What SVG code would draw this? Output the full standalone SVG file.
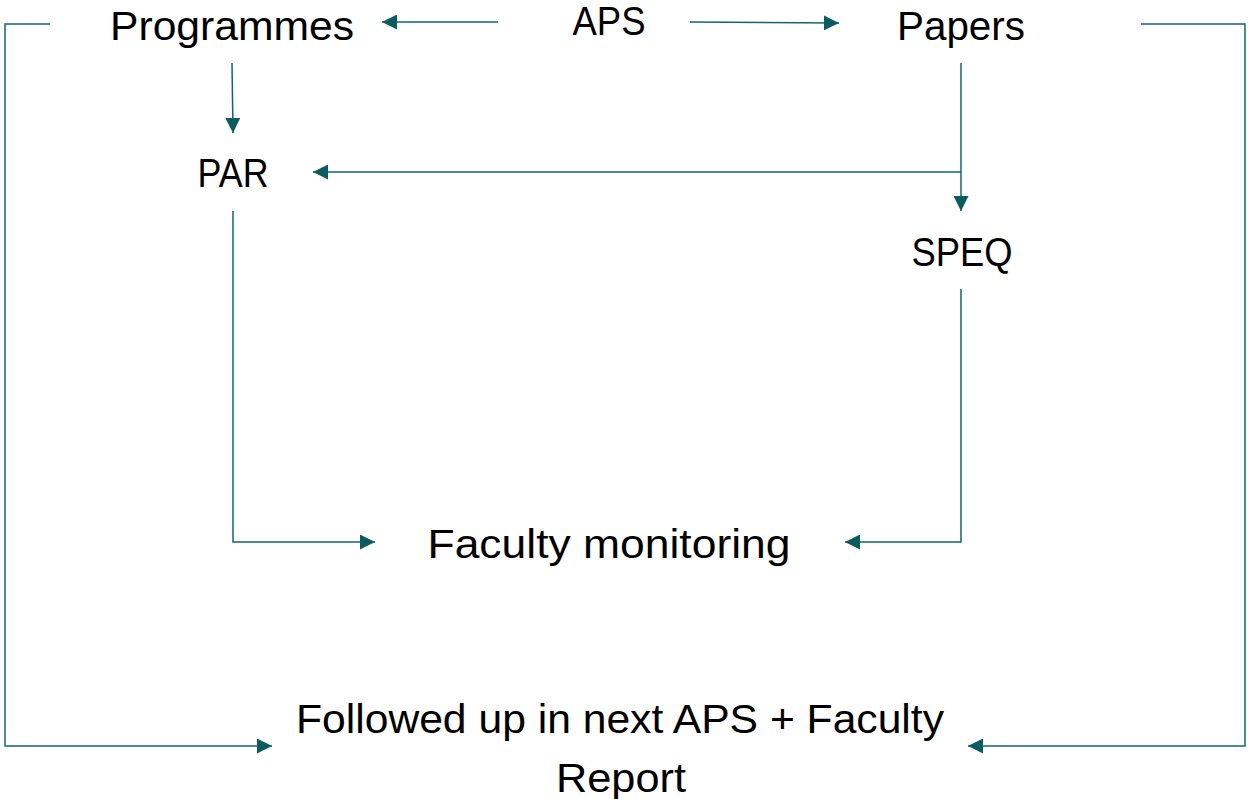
<svg xmlns="http://www.w3.org/2000/svg" width="1248" height="799" viewBox="0 0 1248 799">
<defs>
<style>
.lbl{font-family:"Liberation Sans",Arial,sans-serif;font-size:41px;fill:#000;text-anchor:middle}
.con{fill:none;stroke:#136767;stroke-width:1.5}
</style>
<marker id="ah" markerUnits="userSpaceOnUse" markerWidth="15" markerHeight="15" refX="15" refY="7.5" orient="auto">
<path d="M0,0 L15,7.5 L0,15 z" fill="#0B5C5E"/>
</marker>
</defs>
<rect width="1248" height="799" fill="#fff"/>
<g id="connectors">
<path class="con" d="M498,22 L382,22" marker-end="url(#ah)"/>
<path class="con" d="M690,22 L839,23" marker-end="url(#ah)"/>
<path class="con" d="M232,63 L233,133" marker-end="url(#ah)"/>
<path class="con" d="M961,63 L961,211" marker-end="url(#ah)"/>
<path class="con" d="M961,172 L313,172" marker-end="url(#ah)"/>
<path class="con" d="M233,211 L233,542 L375,542" marker-end="url(#ah)"/>
<path class="con" d="M961,289 L961,542 L845,542" marker-end="url(#ah)"/>
<path class="con" d="M50,24 L5,24 L5,746 L272,746" marker-end="url(#ah)"/>
<path class="con" d="M1141,24 L1245,24 L1245,746 L968,746" marker-end="url(#ah)"/>
</g>
<g id="node-programmes"><text class="lbl" x="232" y="40" textLength="244" lengthAdjust="spacingAndGlyphs">Programmes</text></g>
<g id="node-aps"><text class="lbl" x="609" y="35" textLength="73" lengthAdjust="spacingAndGlyphs">APS</text></g>
<g id="node-papers"><text class="lbl" x="961" y="40" textLength="128" lengthAdjust="spacingAndGlyphs">Papers</text></g>
<g id="node-par"><text class="lbl" x="233" y="187" textLength="71" lengthAdjust="spacingAndGlyphs">PAR</text></g>
<g id="node-speq"><text class="lbl" x="962" y="266" textLength="101" lengthAdjust="spacingAndGlyphs">SPEQ</text></g>
<g id="node-faculty"><text class="lbl" x="609" y="558" textLength="363" lengthAdjust="spacingAndGlyphs">Faculty monitoring</text></g>
<g id="node-followup">
<text class="lbl" x="620" y="733" textLength="648" lengthAdjust="spacingAndGlyphs">Followed up in next APS + Faculty</text>
<text class="lbl" x="621" y="792" textLength="130" lengthAdjust="spacingAndGlyphs">Report</text>
</g>
</svg>
